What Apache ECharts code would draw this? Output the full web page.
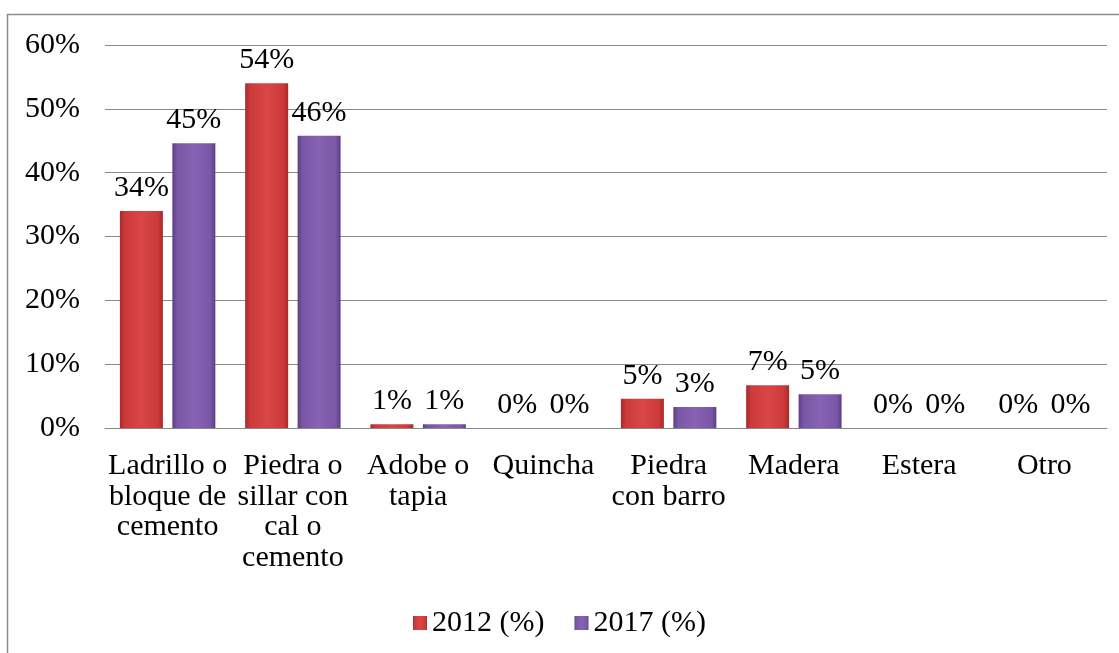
<!DOCTYPE html>
<html>
<head>
<meta charset="utf-8">
<script src="https://cdn.jsdelivr.net/npm/echarts@6/dist/echarts.min.js"></script>
<style>
  html, body { margin: 0; padding: 0; background: #fff; }
  #chart { width: 1119px; height: 653px; }
</style>
</head>
<body>
<div id="chart"></div>
<script>
// categorías (material de paredes)
var categories = ['Ladrillo o\nbloque de\ncemento', 'Piedra o\nsillar con\ncal o\ncemento', 'Adobe o\ntapia', 'Quincha', 'Piedra\ncon barro', 'Madera', 'Estera', 'Otro']
var serie2012 = [34.0, 54.0, 0.6, 0, 4.6, 6.7, 0, 0]
var serie2017 = [44.6, 45.8, 0.6, 0, 3.3, 5.3, 0, 0]
var seriesNames = ['2012 (%)', '2017 (%)']

var fontFam = '"Liberation Serif", "Times New Roman", serif'
var fs = 30

function barGrad(dark, mid, light) {
  return new echarts.graphic.LinearGradient(0, 0, 1, 0, [
    { offset: 0, color: dark },
    { offset: 0.12, color: mid },
    { offset: 0.5, color: light },
    { offset: 0.88, color: mid },
    { offset: 1, color: dark }
  ])
}

function pctLabel(p) {
  return Math.round(p.value) + '%'
}

var chart = echarts.init(document.getElementById('chart'))
chart.setOption({
  animation: false,
  textStyle: { fontFamily: fontFam },
  grid: { left: 105, right: 12, top: 45, bottom: 225 },
  graphic: [{
    type: 'rect',
    shape: { x: 7.5, y: 14.5, width: 1120, height: 650 },
    style: { fill: 'none', stroke: '#8c8c8c', lineWidth: 1.5 },
    silent: true
  }],
  legend: {
    top: 603,
    left: 'center',
    itemWidth: 14,
    itemHeight: 14,
    itemGap: 30,
    icon: 'rect',
    textStyle: { fontFamily: fontFam, fontSize: fs, color: '#000' },
    data: seriesNames
  },
  xAxis: {
    type: 'category',
    data: categories,
    axisLine: { lineStyle: { color: '#888', width: 1 } },
    axisTick: { show: false },
    axisLabel: {
      interval: 0,
      fontFamily: fontFam,
      fontSize: fs,
      color: '#000',
      lineHeight: 30.5,
      margin: 23
    }
  },
  yAxis: {
    type: 'value',
    min: 0,
    max: 60,
    interval: 10,
    axisLine: { show: false },
    axisTick: { show: false },
    splitLine: { lineStyle: { color: '#888', width: 1 } },
    axisLabel: {
      formatter: '{value}%',
      fontFamily: fontFam,
      fontSize: fs,
      color: '#000',
      margin: 25
    }
  },
  series: [{
    name: seriesNames[0],
    type: 'bar',
    data: serie2012,
    barWidth: 43,
    barGap: '22%',
    itemStyle: {
      color: barGrad('#a82a2c', '#cc3a3b', '#d94646')
    },
    label: {
      show: true,
      position: 'top',
      distance: 8,
      fontFamily: fontFam,
      fontSize: fs,
      color: '#000',
      formatter: pctLabel
    }
  }, {
    name: seriesNames[1],
    type: 'bar',
    data: serie2017,
    barWidth: 43,
    itemStyle: {
      color: barGrad('#5e3f86', '#7a58a6', '#8663b3')
    },
    label: {
      show: true,
      position: 'top',
      distance: 8,
      fontFamily: fontFam,
      fontSize: fs,
      color: '#000',
      formatter: pctLabel
    }
  }]
})
</script>
</body>
</html>
